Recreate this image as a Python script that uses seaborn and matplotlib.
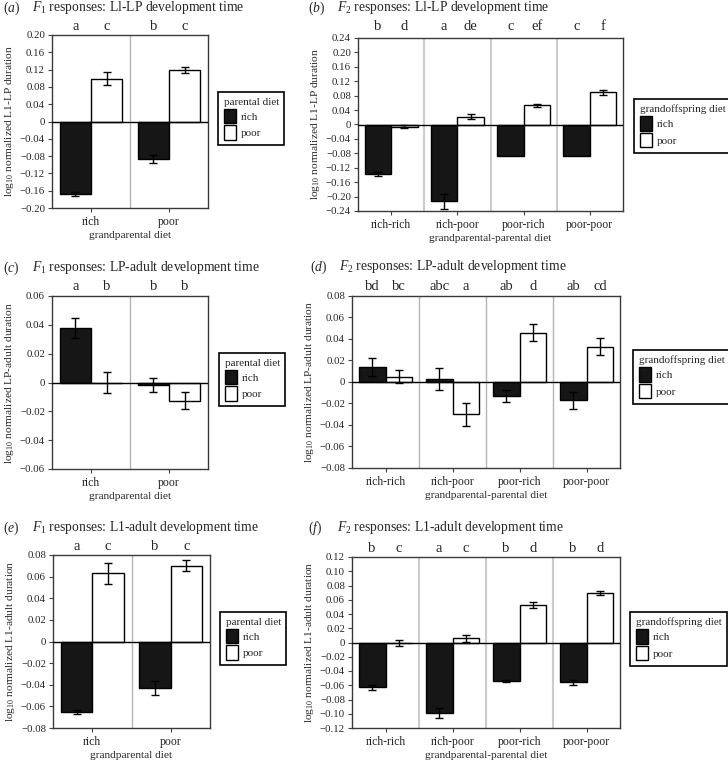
import numpy as np
import pandas as pd
import matplotlib
matplotlib.use("Agg")
import matplotlib.pyplot as plt
import matplotlib.transforms as mtransforms
from matplotlib.ticker import FuncFormatter, MultipleLocator
import seaborn as sns

sns.set_style("white")
plt.rcParams["font.family"] = ["Liberation Serif", "DejaVu Serif"]
plt.rcParams["mathtext.fontset"] = "custom"
plt.rcParams["mathtext.rm"] = "Liberation Serif"
plt.rcParams["mathtext.it"] = "Liberation Serif:italic"

# --------------------------
# categories
# --------------------------
gp_diet = ["rich", "poor"]
gpp_diet = ["rich-rich", "rich-poor", "poor-rich", "poor-poor"]
diets = ["rich", "poor"]

# --------------------------
# (a) F1 L1-LP
# --------------------------
a_rich = [-0.168, -0.087]
a_poor = [0.099, 0.119]
a_rich_err = [0.005, 0.010]
a_poor_err = [0.015, 0.007]
a_letters = ["a", "c", "b", "c"]

# (b) F2 L1-LP
b_rich = [-0.137, -0.213, -0.087, -0.087]
b_poor = [-0.006, 0.022, 0.053, 0.089]
b_rich_err = [0.005, 0.021, 0.0, 0.0]
b_poor_err = [0.004, 0.007, 0.005, 0.006]
b_letters = ["b", "d", "a", "de", "c", "ef", "c", "f"]

# (c) F1 LP-adult
c_rich = [0.038, -0.0015]
c_poor = [0.0, -0.0125]
c_rich_err = [0.007, 0.0048]
c_poor_err = [0.007, 0.0057]
c_letters = ["a", "b", "b", "b"]

# (d) F2 LP-adult
d_rich = [0.014, 0.003, -0.013, -0.017]
d_poor = [0.005, -0.030, 0.046, 0.033]
d_rich_err = [0.008, 0.010, 0.0055, 0.008]
d_poor_err = [0.006, 0.0105, 0.008, 0.008]
d_letters = ["bd", "bc", "abc", "a", "ab", "d", "ab", "cd"]

# (e) F1 L1-adult
e_rich = [-0.065, -0.043]
e_poor = [0.063, 0.070]
e_rich_err = [0.002, 0.0065]
e_poor_err = [0.0095, 0.005]
e_letters = ["a", "c", "b", "c"]

# (f) F2 L1-adult
f_rich = [-0.063, -0.099, -0.054, -0.056]
f_poor = [-0.001, 0.006, 0.053, 0.069]
f_rich_err = [0.003, 0.007, 0.002, 0.003]
f_poor_err = [0.004, 0.005, 0.004, 0.003]
f_letters = ["b", "c", "a", "c", "b", "d", "b", "d"]

W, H = 728, 763
fig = plt.figure(figsize=(W / 100, H / 100), dpi=100)


def fmt(v, pos):
    if abs(v) < 1e-9:
        return "0"
    return f"{v:.2f}".replace("-", "\u2212")


def panel(box, groups, rich, poor, rich_err, poor_err, letters, lim, step,
          ylabel, xlabel, leg_title, leg_xy, title_y, tag, title, tag_x,
          div_color="#b5b5b5", div_lw=1.0, letter_gap=9):
    x0, y0, x1, y1 = box
    ax = fig.add_axes([x0 / W, 1 - y1 / H, (x1 - x0) / W, (y1 - y0) / H])
    df = pd.DataFrame({
        "group": list(groups) * 2,
        "diet": ["rich"] * len(groups) + ["poor"] * len(groups),
        "value": list(rich) + list(poor),
        "err": list(rich_err) + list(poor_err),
    })
    sns.barplot(data=df, x="group", y="value", hue="diet", order=groups,
                hue_order=diets, palette={"rich": "#161616", "poor": "white"},
                edgecolor="black", linewidth=1.0, errorbar=None, width=0.8,
                saturation=1, ax=ax, zorder=2)
    top = mtransforms.blended_transform_factory(ax.transData, ax.transAxes)
    bars = list(ax.containers)
    for hi, cont in enumerate(bars):
        sub = df[df["diet"] == diets[hi]].set_index("group")
        for gi, bar in enumerate(cont):
            xc = bar.get_x() + bar.get_width() / 2
            row = sub.loc[groups[gi]]
            if row["err"] > 0:
                ax.errorbar(xc, row["value"], yerr=row["err"], fmt="none",
                            ecolor="black", elinewidth=1.0, capsize=3,
                            capthick=1.0, zorder=4)
            ax.text(xc, 1 + letter_gap / (y1 - y0), letters[gi * 2 + hi],
                    transform=top, ha="center", va="center", fontsize=10.5)
    for k in range(1, len(groups)):
        ax.axvline(k - 0.5, color=div_color, lw=div_lw, zorder=0)
    ax.axhline(0, color="black", lw=1.0, zorder=3)
    ax.set_xlim(-0.5, len(groups) - 0.5)
    ax.set_ylim(-lim, lim)
    ax.yaxis.set_major_locator(MultipleLocator(step))
    ax.yaxis.set_major_formatter(FuncFormatter(fmt))
    ax.tick_params(axis="both", which="major", direction="out", length=3,
                   width=0.8, color="#444444", labelsize=7.8, pad=2,
                   left=True, bottom=True)
    ax.tick_params(axis="x", labelsize=8.5, pad=3)
    for s in ax.spines.values():
        s.set_color("#3a3a3a")
        s.set_linewidth(1.0)
    ax.set_ylabel(r"log$_{10}$ normalized " + ylabel, fontsize=8.2, labelpad=3)
    ax.set_xlabel(xlabel, fontsize=8.2, labelpad=2)
    sns.move_legend(ax, "upper left", bbox_to_anchor=(leg_xy[0] / W, 1 - leg_xy[1] / H),
                    bbox_transform=fig.transFigure, title=leg_title, frameon=True,
                    fontsize=8, title_fontsize=8, fancybox=False, framealpha=1,
                    edgecolor="black", handlelength=1.1, handleheight=1.6,
                    handletextpad=0.45, borderpad=0.5, labelspacing=0.2,
                    borderaxespad=0, alignment="left")
    ax.get_legend().get_frame().set_linewidth(1.2)
    fig.text(tag_x / W, 1 - title_y / H, tag, fontsize=9.8, va="center")
    fig.text((tag_x + 29) / W, 1 - title_y / H, title, fontsize=9.8, va="center")
    return ax


panel((52, 35, 208, 208), gp_diet, a_rich, a_poor, a_rich_err, a_poor_err,
      a_letters, 0.20, 0.04, "L1-LP duration", "grandparental diet",
      "parental diet", (218, 92), 8, r"($a$)", r"$F_1$ responses: Ll-LP development time", 3)
panel((358, 38, 623, 211), gpp_diet, b_rich, b_poor, b_rich_err, b_poor_err,
      b_letters, 0.24, 0.04, "L1-LP duration", "grandparental-parental diet",
      "grandoffspring diet", (634, 99), 8, r"($b$)", r"$F_2$ responses: Ll-LP development time", 308,
      div_color="#cccccc", div_lw=1.5, letter_gap=11)
panel((52, 296, 208, 469), gp_diet, c_rich, c_poor, c_rich_err, c_poor_err,
      c_letters, 0.06, 0.02, "LP-adult duration", "grandparental diet",
      "parental diet", (219, 353), 268, r"($c$)", r"$F_1$ responses: LP-adult development time", 3)
panel((352, 296, 620, 468), gpp_diet, d_rich, d_poor, d_rich_err, d_poor_err,
      d_letters, 0.08, 0.02, "LP-adult duration", "grandparental-parental diet",
      "grandoffspring diet", (633, 350), 267, r"($d$)", r"$F_2$ responses: LP-adult development time", 310)
panel((53, 555, 210, 728), gp_diet, e_rich, e_poor, e_rich_err, e_poor_err,
      e_letters, 0.08, 0.02, "L1-adult duration", "grandparental diet",
      "parental diet", (220, 612), 528, r"($e$)", r"$F_1$ responses: L1-adult development time", 3)
panel((352, 557, 620, 728), gpp_diet, f_rich, f_poor, f_rich_err, f_poor_err,
      f_letters, 0.12, 0.02, "L1-adult duration", "grandparental-parental diet",
      "grandoffspring diet", (630, 612), 528, r"($f$)", r"$F_2$ responses: L1-adult development time", 308,
      div_color="#cccccc", div_lw=1.5)

fig.savefig("out.png", dpi=100)
